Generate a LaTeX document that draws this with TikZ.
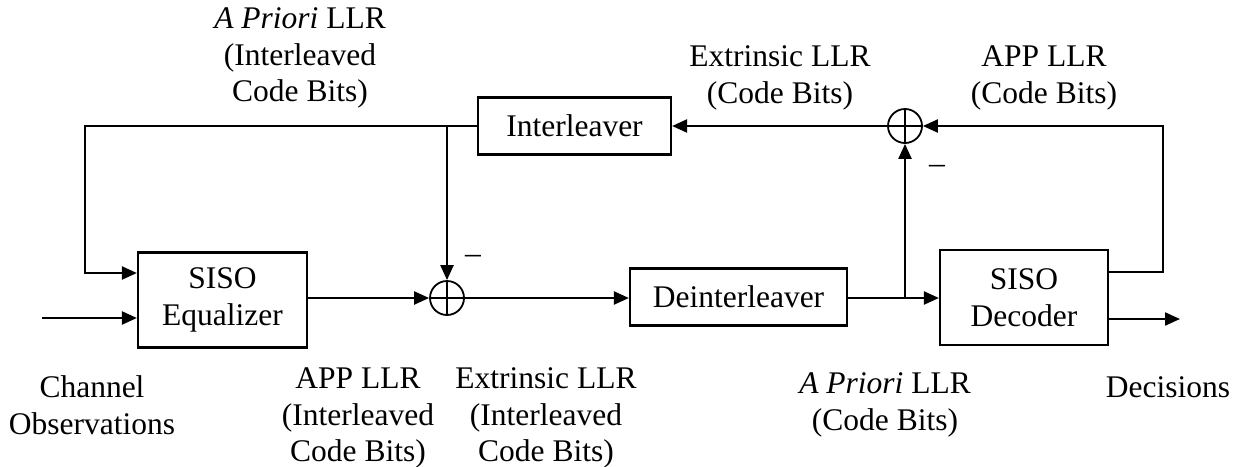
\documentclass[tikz,border=0pt]{standalone}
\usepackage{fontspec}
\setmainfont{Liberation Serif}
\usetikzlibrary{arrows.meta,calc}
\begin{document}
\begin{tikzpicture}[x=1pt,y=-1pt,
  line width=2.2pt,
  every node/.style={font=\fontsize{31.5}{36.5}\selectfont, inner sep=0pt},
  blk/.style={draw, rectangle, align=center},
  sumnode/.style={draw, circle, minimum size=34pt, line width=1.8pt},
  arr/.style={-{Triangle[length=15pt,width=13pt]}}]
\useasboundingbox (0,0) rectangle (1234,466);
% blocks
\node[blk, minimum width=169pt, minimum height=95pt] (eq) at (222.5,300) {SISO\\Equalizer};
\node[blk, minimum width=168pt, minimum height=95pt] (dec) at (1024,297.5) {SISO\\Decoder};
\node[blk, minimum width=193pt, minimum height=57pt] (il) at (574.5,126) {Interleaver};
\node[blk, minimum width=217pt, minimum height=57pt] (dil) at (738.5,297) {Deinterleaver};
\node[sumnode] (s1) at (447,298) {};
\node[sumnode] (s2) at (905,126) {};
\draw[line width=1.8pt] (s1.north) -- (s1.south) (s1.west) -- (s1.east);
\draw[line width=1.8pt] (s2.north) -- (s2.south) (s2.west) -- (s2.east);
% helper coordinates
\coordinate (fbc) at (85,126);
\coordinate (j1) at (447,126);
\coordinate (j2) at (905,298);
\coordinate (rc) at (1163,272);
\coordinate (chin) at (42,318);
\coordinate (dout) at (1180,319);
\path (eq.west) ++(0,-27) coordinate (eqin1);
\path (eq.west) ++(0,18) coordinate (eqin2);
% connectors
\draw[arr] (il.west) -- (fbc) |- (eqin1);
\draw[arr] (chin) -- (eqin2);
\draw[arr] (j1) -- (s1.north);
\draw[arr] (s1 -| eq.east) -- (s1.west);
\draw[arr] (s1.east) -- (s1 -| dil.west);
\draw (dil.east |- j2) -- (j2);
\draw[arr] (j2) -- (j2 -| dec.west);
\draw[arr] (j2) -- (s2.south);
\draw[arr] (dec.east |- rc) -- (rc) |- (s2.east);
\draw[arr] (s2.west) -- (s2 -| il.east);
\draw[arr] (dec.east |- dout) -- (dout);
% minus signs
\node (m1) at (473,259) {–};
\node (m2) at (937,169) {–};
% labels
\node[align=center] (tA) at (300,58) {\textit{A Priori} LLR\\(Interleaved\\Code Bits)};
\node[align=center] (tE) at (780,78) {Extrinsic LLR\\(Code Bits)};
\node[align=center] (tP) at (1044,78) {APP LLR\\(Code Bits)};
\node[align=center] (tC) at (92,405) {Channel\\Observations};
\node[align=center] (tP2) at (358,418) {APP LLR\\(Interleaved\\Code Bits)};
\node[align=center] (tE2) at (546,418) {Extrinsic LLR\\(Interleaved\\Code Bits)};
\node[align=center] (tA2) at (885,405) {\textit{A Priori} LLR\\(Code Bits)};
\node (tD) at (1168,387) {Decisions};
\end{tikzpicture}
\end{document}
